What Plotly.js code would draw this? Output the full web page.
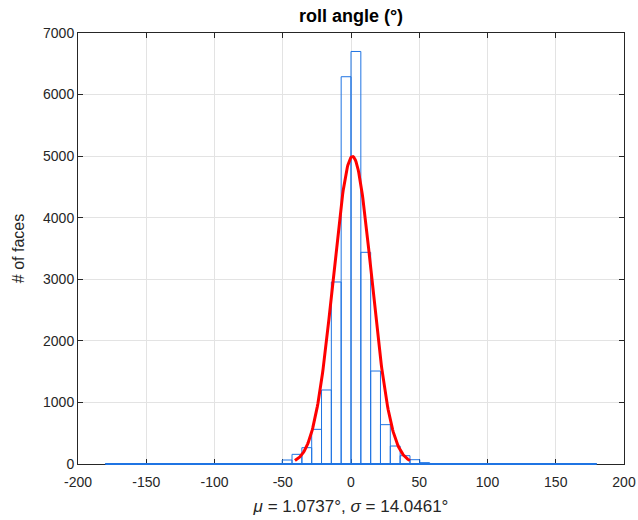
<!DOCTYPE html>
<html>
<head>
<meta charset="utf-8">
<script src="https://cdn.plot.ly/plotly-3.0.1.min.js"></script>
<style>html,body{margin:0;padding:0;background:#fff}#chart{width:638px;height:520px}</style>
</head>
<body>
<div id="chart"></div>
<script>
// Histogram bins (width 7.2°, edges -180..180)
const binStart = -180;
const binWidth = 7.2;
const counts = [
  3, 2, 3, 2, 3, 2, 3, 3, 2, 3,
  3, 3, 4, 4, 5, 6, 7, 8, 65, 157,
  265, 563, 1202, 2956, 6290, 6700, 3438, 1510, 639, 292,
  135, 70, 22, 8, 6, 4, 4, 3, 3, 3,
  3, 2, 3, 2, 3, 2, 3, 2, 3, 2
];
// Normal fit parameters
const fitMu = 1.0737;
const fitSigma = 14.0461;
const xTicks = [-200, -150, -100, -50, 0, 50, 100, 150, 200];
const yTicks = [0, 1000, 2000, 3000, 4000, 5000, 6000, 7000];

const centers = counts.map((c, i) => binStart + binWidth * (i + 0.5));
const binEnd = binStart + binWidth * counts.length;
const total = counts.reduce((a, b) => a + b, 0);
const fx = [], fy = [];
const nPts = 200;
for (let i = 0; i <= nPts; i++) {
  const x = fitMu - 3 * fitSigma + (6 * fitSigma) * i / nPts;
  fx.push(x);
  fy.push(total * binWidth / (fitSigma * Math.sqrt(2 * Math.PI)) * Math.exp(-0.5 * Math.pow((x - fitMu) / fitSigma, 2)));
}

const data = [
  {type: 'bar', x: centers, y: counts, width: binWidth,
   marker: {color: 'rgba(255,255,255,0)', line: {color: '#1f74e3', width: 1}},
   hoverinfo: 'x+y', showlegend: false, cliponaxis: false},
  {type: 'scatter', mode: 'lines', x: fx, y: fy,
   line: {color: '#ff0000', width: 3}, showlegend: false}
];

const axisCommon = {
  showline: true, linecolor: '#262626', linewidth: 1, mirror: 'ticks',
  ticks: 'inside', ticklen: 5, tickcolor: '#262626',
  showgrid: true, gridcolor: '#e3e3e3', gridwidth: 1,
  zeroline: false, layer: 'below traces',
  tickfont: {family: 'Liberation Sans, Arial, sans-serif', size: 14, color: '#262626'}
};

const layout = {
  width: 638, height: 520,
  margin: {l: 78, r: 14, t: 33, b: 56},
  paper_bgcolor: '#ffffff', plot_bgcolor: '#ffffff',
  bargap: 0,
  // bin bottoms: histogram baseline drawn over the axis line, as in the source
  shapes: [{type: 'line', xref: 'x', yref: 'paper', x0: binStart, x1: binEnd, y0: 0, y1: 0,
            layer: 'above', line: {color: '#1f74e3', width: 2}}],
  title: {text: '<b>roll angle (°)</b>', x: 0.5, xref: 'paper', xanchor: 'center', y: 0.981, yanchor: 'top',
          font: {family: 'Liberation Sans, Arial, sans-serif', size: 18, color: '#000'}},
  xaxis: Object.assign({}, axisCommon, {
    range: [-200, 200], tickvals: xTicks, ticktext: xTicks.map(String),
    ticklabelstandoff: 5,
    title: {text: '<i>μ</i> = 1.0737°, <i>σ</i> = 14.0461°', standoff: 11,
            font: {family: 'Liberation Sans, Arial, sans-serif', size: 17, color: '#262626'}}
  }),
  yaxis: Object.assign({}, axisCommon, {
    range: [0, 7000], tickvals: yTicks, ticktext: yTicks.map(String),
    title: {text: '# of faces', standoff: 14,
            font: {family: 'Liberation Sans, Arial, sans-serif', size: 16, color: '#262626'}}
  })
};

Plotly.newPlot('chart', data, layout, {displayModeBar: false, staticPlot: true});
</script>
</body>
</html>
